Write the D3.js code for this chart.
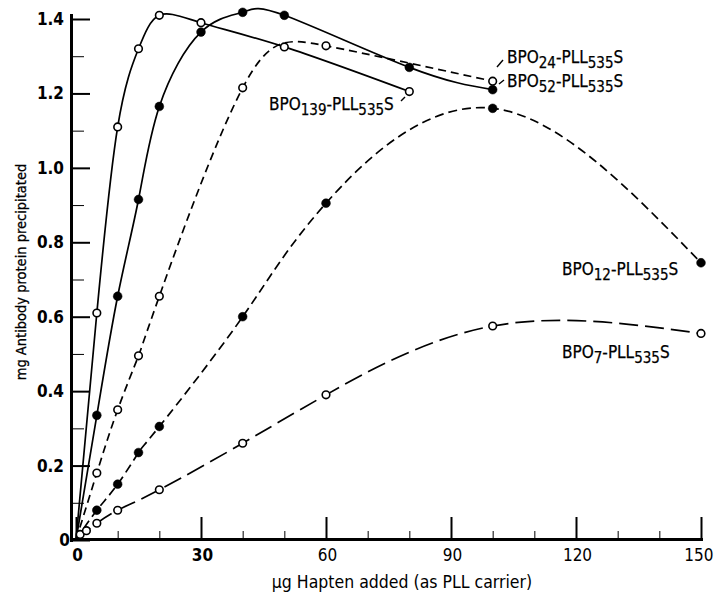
<!DOCTYPE html>
<html>
<head>
<meta charset="utf-8">
<script src="https://cdn.jsdelivr.net/npm/d3@7"></script>
<style>
body { margin: 0; background: #fff; }
</style>
</head>
<body>
<script>
// values (x = ug hapten, y = mg antibody)
var bpo139X = [0, 5, 10, 15, 20, 30, 50, 80];
var bpo139Y = [0, 0.61, 1.11, 1.32, 1.41, 1.39, 1.325, 1.205];
var bpo52X = [0, 5, 10, 15, 20, 30, 40, 50, 80, 100];
var bpo52Y = [0, 0.335, 0.655, 0.915, 1.165, 1.365, 1.418, 1.41, 1.27, 1.21];
var bpo24X = [0, 5, 10, 15, 20, 40, 60, 100];
var bpo24Y = [0, 0.18, 0.35, 0.495, 0.655, 1.215, 1.328, 1.233];
var bpo12X = [0, 5, 10, 15, 20, 40, 60, 100, 150];
var bpo12Y = [0, 0.08, 0.15, 0.235, 0.305, 0.6, 0.905, 1.16, 0.745];
var bpo7X = [0, 1, 2.5, 5, 10, 20, 40, 60, 100, 150];
var bpo7Y = [0, 0.015, 0.025, 0.045, 0.08, 0.135, 0.26, 0.39, 0.575, 0.555];

var xTicks = [0, 30, 60, 90, 120, 150];
var xMinorTicks = [10, 20, 40, 50, 70, 80, 100, 110, 130, 140];
var yTicks = [0, 0.2, 0.4, 0.6, 0.8, 1.0, 1.2, 1.4];
var yMinorTicks = [0.1, 0.3, 0.5, 0.7, 0.9, 1.1, 1.3];

var xTitle = "\u00b5g Hapten added (as PLL carrier)";
var yTitle = "mg Antibody protein precipitated";

var cond = "'DejaVu Sans Condensed', 'DejaVu Sans', sans-serif";

var svg, x, y;

function zip(xs, ys) {
  return xs.map(function(v, i) { return [v, ys[i]]; });
}

var series = [
  { pts: zip(bpo139X, bpo139Y), open: true, dash: null },
  { pts: zip(bpo52X, bpo52Y), open: false, dash: null },
  { pts: zip(bpo24X, bpo24Y), open: true, dash: "8,5" },
  { pts: zip(bpo12X, bpo12Y), open: false, dash: "9,5" },
  { pts: zip(bpo7X, bpo7Y), open: true, dash: "19,7" }
];

var labels = [
  { parts: ["BPO", "139", "-PLL", "535", "S"], x: 269, y: 110 },
  { parts: ["BPO", "24", "-PLL", "535", "S"], x: 507, y: 63 },
  { parts: ["BPO", "52", "-PLL", "535", "S"], x: 507, y: 87 },
  { parts: ["BPO", "12", "-PLL", "535", "S"], x: 562, y: 275 },
  { parts: ["BPO", "7", "-PLL", "535", "S"], x: 562, y: 358 }
];

function init() {
  svg = d3.select("body").append("svg")
    .attr("width", 714)
    .attr("height", 594);

  x = d3.scaleLinear().domain([0, 150]).range([76, 701]);
  y = d3.scaleLinear().domain([0, 1.4]).range([540, 19]);

  // heavy axis bars, integer rects
  svg.append("rect").attr("x", 70).attr("y", 14).attr("width", 3).attr("height", 528).attr("fill", "black");
  svg.append("rect").attr("x", 70).attr("y", 538).attr("width", 633).attr("height", 3).attr("fill", "black");

  // d3 axes with default styling, ticks pointing inward
  svg.append("g").attr("transform", "translate(72,0)")
    .call(d3.axisLeft(y).tickValues(yMinorTicks).tickSize(-12).tickSizeOuter(0).tickFormat(""));
  svg.append("g").attr("transform", "translate(0,539)")
    .call(d3.axisBottom(x).tickValues(xMinorTicks).tickSize(-8).tickSizeOuter(0).tickFormat(""));

  var yAxis = svg.append("g").attr("transform", "translate(72,0)")
    .call(d3.axisLeft(y).tickValues(yTicks).tickSize(-18).tickSizeOuter(0).tickPadding(8)
      .tickFormat(function(d) { return d === 0 ? "0" : d3.format(".1f")(d); }));
  yAxis.selectAll(".tick line").attr("stroke-width", 2);
  yAxis.selectAll(".tick text")
    .attr("x", function(d) { return d === 0 ? -2 : -8; })
    .style("font-family", cond)
    .style("font-size", "17px")
    .style("font-weight", "bold");

  var xAxis = svg.append("g").attr("transform", "translate(0,539)")
    .call(d3.axisBottom(x).tickValues(xTicks).tickSize(-22).tickSizeOuter(0).tickPadding(10));
  xAxis.selectAll(".tick line").attr("stroke-width", 2);
  xAxis.selectAll(".tick text")
    .attr("x", 1)
    .attr("y", 10)
    .style("font-family", cond)
    .style("font-size", "17px")
    .style("font-weight", function(d) { return d < 60 ? "bold" : "normal"; });
  xAxis.selectAll(".tick").filter(function(d) { return d === 150; }).select("text")
    .attr("text-anchor", "end").attr("x", 12);

  // curves
  var line = d3.line()
    .x(function(d) { return x(d[0]); })
    .y(function(d) { return y(d[1]); })
    .curve(d3.curveNatural);

  series.forEach(function(s) {
    svg.append("path")
      .attr("d", line(s.pts))
      .attr("fill", "none")
      .attr("stroke", "black")
      .attr("stroke-width", 1.7)
      .attr("stroke-dasharray", s.dash);
  });

  series.forEach(function(s) {
    svg.append("g").selectAll("circle").data(s.pts.slice(1)).enter().append("circle")
      .attr("cx", function(d) { return x(d[0]); })
      .attr("cy", function(d) { return y(d[1]); })
      .attr("r", s.open ? 3.8 : 4.4)
      .attr("fill", s.open ? "white" : "black")
      .attr("stroke", "black")
      .attr("stroke-width", s.open ? 1.6 : 0.5);
  });

  // labels with subscripts
  labels.forEach(function(l) {
    var t = svg.append("text")
      .attr("x", l.x).attr("y", l.y)
      .attr("fill", "black")
      .attr("stroke", "black").attr("stroke-width", 0.25)
      .style("font-family", cond)
      .style("font-size", "17px");
    l.parts.forEach(function(p, i) {
      var sub = (i % 2 === 1);
      t.append("tspan")
        .style("font-size", sub ? "15px" : "17px")
        .attr("dy", sub ? 5 : (i === 0 ? 0 : -5))
        .text(p);
    });
  });

  // leader strokes from labels to curve ends
  var leaders = [[401, 101, 405, 97], [497, 67, 503, 60], [499, 84, 504, 80]];
  svg.append("g").selectAll("line").data(leaders).enter().append("line")
    .attr("x1", function(d) { return d[0]; }).attr("y1", function(d) { return d[1]; })
    .attr("x2", function(d) { return d[2]; }).attr("y2", function(d) { return d[3]; })
    .attr("stroke", "black").attr("stroke-width", 1.4);

  // titles
  svg.append("text")
    .attr("x", 402).attr("y", 588)
    .attr("text-anchor", "middle")
    .style("font-family", cond)
    .style("font-size", "17.5px")
    .text(xTitle);
  svg.append("text")
    .attr("transform", "translate(26,272) rotate(-90)")
    .attr("text-anchor", "middle")
    .attr("stroke", "black").attr("stroke-width", 0.3)
    .style("font-family", cond)
    .style("font-size", "14.5px")
    .text(yTitle);
}
init();
</script>
</body>
</html>
